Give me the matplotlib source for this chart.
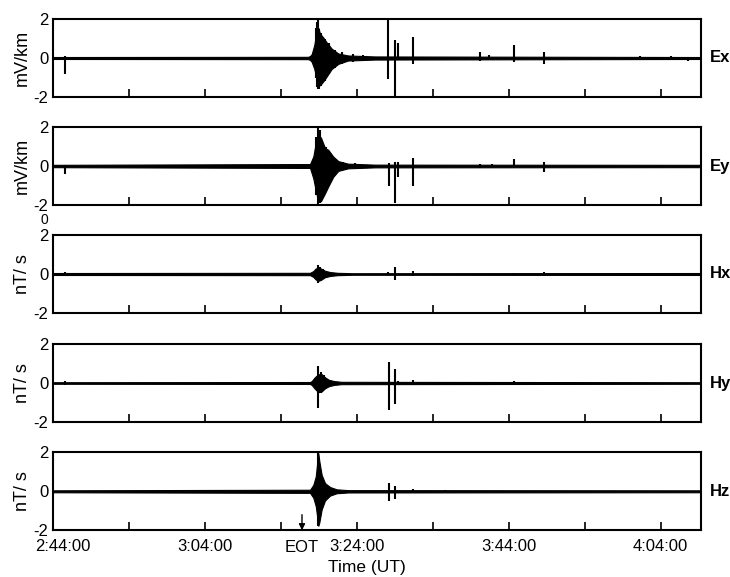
import numpy as np
import matplotlib
matplotlib.use('Agg')
import matplotlib.pyplot as plt
from matplotlib.transforms import blended_transform_factory, ScaledTranslation

plt.rcParams['font.family'] = ['Liberation Sans', 'DejaVu Sans']

# time axis: minutes after 2:44:00
x_end = 85.3
tick_min = [0, 10, 20, 30, 40, 50, 60, 70, 80]
tick_lab = ['2:44:00', '', '3:04:00', '', '3:24:00', '', '3:44:00', '', '4:04:00']
eot_min = 32.8

channels = ['Ex', 'Ey', 'Hx', 'Hy', 'Hz']
units = ['mV/km', 'mV/km', 'nT/ s', 'nT/ s', 'nT/ s']

# burst envelopes
ex_t = [0, 33.6, 33.86, 34.08, 34.42, 34.74, 34.95, 35.17, 35.6, 36.05, 36.71, 37.58, 38.86, 42.4, 85.3]
ex_hi = [.05, .06, .1, .2, .67, 1.45, 1.55, 1.25, 1.05, .8, .48, .23, .13, .08, .05]
ex_lo = [-.05, -.06, -.1, -.2, -.56, -1.1, -1.4, -1.4, -1.2, -.95, -.56, -.3, -.13, -.08, -.05]

ey_t = [0, 33.86, 34.29, 34.61, 34.95, 35.3, 35.83, 36.26, 36.92, 37.58, 38.86, 42.4, 85.3]
ey_hi = [.06, .1, .49, 1.18, 1.6, 1.45, .92, .83, .48, .25, .12, .07, .06]
ey_lo = [-.06, -.1, -.64, -1.25, -1.85, -1.8, -1.4, -1.05, -.55, -.25, -.12, -.07, -.06]

hx_t = [0, 33.86, 34.29, 34.6, 34.95, 35.3, 35.8, 36.5, 37.5, 39.5, 85.3]
hx_hi = [.05, .06, .15, .28, .33, .28, .17, .1, .06, .04, .05]
hx_lo = [-.05, -.06, -.15, -.28, -.35, -.3, -.17, -.1, -.06, -.04, -.05]

hy_t = [0, 33.86, 34.08, 34.5, 34.95, 35.4, 35.8, 36.3, 37.0, 38.0, 85.3]
hy_hi = [.04, .05, .1, .3, .45, .45, .3, .17, .1, .06, .04]
hy_lo = [-.04, -.05, -.1, -.3, -.47, -.43, -.28, -.17, -.1, -.06, -.04]

hz_t = [0, 33.86, 34.29, 34.61, 34.87, 34.95, 35.08, 35.39, 35.83, 36.49, 37.37, 38.86, 85.3]
hz_hi = [.05, .08, .33, .76, 1.7, 1.95, 1.55, .84, .42, .22, .1, .06, .05]
hz_lo = [-.05, -.08, -.33, -.76, -1.5, -1.77, -1.6, -.93, -.47, -.22, -.1, -.06, -.05]

# isolated spikes and burst peaks: time, top, bottom
ex_sp_t = [1.62, 34.6, 34.8, 34.95, 35.1, 35.35, 35.8, 36.4, 37.1, 38.0, 39.5, 40.8,
           44.18, 45.1, 45.43, 47.37, 56.2, 57.4, 60.7, 64.7, 77.3, 81.4, 83.6]
ex_sp_hi = [0.1, 1.55, 1.85, 2.0, 1.5, 1.3, 0.95, 0.75, 0.4, 0.3, 0.2, 0.15,
            2.0, 0.9, 0.75, 1.1, 0.3, 0.15, 0.65, 0.3, 0.1, 0.12, 0.05]
ex_sp_lo = [-0.8, -1.0, -1.5, -1.6, -1.6, -1.45, -1.2, -0.8, -0.5, -0.3, -0.2, -0.12,
            -1.1, -2.0, -0.1, -0.3, -0.15, -0.05, -0.2, -0.3, -0.1, -0.05, -0.15]

ey_sp_t = [1.62, 34.7, 34.95, 35.2, 35.5, 35.9, 36.6, 37.3, 38.2, 39.8,
           44.25, 45.1, 45.43, 47.37, 56.2, 57.8, 60.7, 64.7]
ey_sp_hi = [0.05, 1.5, 2.0, 1.85, 1.1, 0.95, 0.6, 0.35, 0.2, 0.15,
            0.17, 0.2, 0.2, 0.4, 0.1, 0.12, 0.35, 0.2]
ey_sp_lo = [-0.4, -1.5, -2.0, -1.9, -1.6, -1.3, -0.75, -0.4, -0.2, -0.12,
            -1.0, -1.9, -0.55, -1.05, -0.1, -0.05, -0.05, -0.3]

hx_sp_t = [1.62, 34.9, 35.2, 35.6, 44.1, 45.1, 47.37, 60.7, 64.7]
hx_sp_hi = [0.1, 0.45, 0.38, 0.25, 0.1, 0.37, 0.15, 0.07, 0.1]
hx_sp_lo = [0, -0.45, -0.38, -0.22, -0.05, -0.3, -0.1, -0.03, -0.05]

hy_sp_t = [1.62, 34.95, 35.3, 35.7, 44.25, 45.1, 45.43, 47.37, 60.7, 64.7]
hy_sp_hi = [0.1, 0.86, 0.55, 0.4, 1.08, 0.71, 0.1, 0.15, 0.1, 0.05]
hy_sp_lo = [-0.1, -1.28, -0.5, -0.35, -1.4, -1.1, -0.1, -0.05, -0.03, -0.1]

hz_sp_t = [34.95, 44.25, 45.0, 47.37, 51.6]
hz_sp_hi = [2.0, 0.45, 0.25, 0.1, 0.07]
hz_sp_lo = [-1.8, -0.5, -0.4, -0.05, 0]

env = [(ex_t, ex_hi, ex_lo), (ey_t, ey_hi, ey_lo), (hx_t, hx_hi, hx_lo),
       (hy_t, hy_hi, hy_lo), (hz_t, hz_hi, hz_lo)]
spk = [(ex_sp_t, ex_sp_hi, ex_sp_lo), (ey_sp_t, ey_sp_hi, ey_sp_lo),
       (hx_sp_t, hx_sp_hi, hx_sp_lo), (hy_sp_t, hy_sp_hi, hy_sp_lo),
       (hz_sp_t, hz_sp_hi, hz_sp_lo)]

fig = plt.figure(figsize=(7.3, 5.77), dpi=100)
W, H = 730.0, 577.0
left, right = 52.7, 701.0
tops = [19, 127, 235, 344, 452.3]
ah = 78.0

axes = []
for i, name in enumerate(channels):
    ax = fig.add_axes([left / W, 1 - (tops[i] + ah) / H, (right - left) / W, ah / H])
    t, hi, lo = env[i]
    ax.fill_between(t, lo, hi, color='k', lw=0.8, edgecolor='k')
    st, sh, sl = spk[i]
    ax.vlines(st, sl, sh, color='k', lw=1.5)

    ax.set_xlim(0, x_end)
    ax.set_ylim(-2, 2)
    ax.set_yticks([-2, 0, 2])
    ax.set_yticklabels(['-2', '0', '2'])
    ax.set_xticks(tick_min)
    if i == 4:
        ax.set_xticklabels(tick_lab)
    else:
        ax.set_xticklabels([])
    ax.tick_params(axis='x', direction='in', length=6, width=1.2, labelsize=12, pad=6, top=False)
    ax.tick_params(axis='y', length=0, labelsize=12, pad=3)
    for s in ax.spines.values():
        s.set_linewidth(1.5)
    ax.set_ylabel(units[i], fontsize=13)
    ax.yaxis.set_label_coords(-0.034, 0.5)
    ax.text(1.014, 0.5, name, transform=ax.transAxes, ha='left', va='center',
            fontsize=12, fontweight='bold')
    axes.append(ax)

axb = axes[-1]
# first time label sits a little right of its tick
first = axb.get_xticklabels()[0]
first.set_transform(first.get_transform() + ScaledTranslation(0.1, 0, fig.dpi_scale_trans))

axb.set_xlabel('Time (UT)', fontsize=12.5)
axb.xaxis.set_label_coords(0.485, -0.38)
tr = blended_transform_factory(axb.transData, axb.transAxes)
axb.annotate('', xy=(eot_min, 0.0), xytext=(eot_min, 0.2), xycoords=tr, textcoords=tr,
             arrowprops=dict(arrowstyle='-|>', color='k', lw=1, mutation_scale=9,
                             shrinkA=0, shrinkB=0))
axb.text(eot_min, -0.22, 'EOT', transform=tr, ha='center', va='center', fontsize=12)

fig.text(44 / W, 1 - 220 / H, '0', ha='center', va='center', fontsize=10)

fig.savefig('out.png', dpi=100)
